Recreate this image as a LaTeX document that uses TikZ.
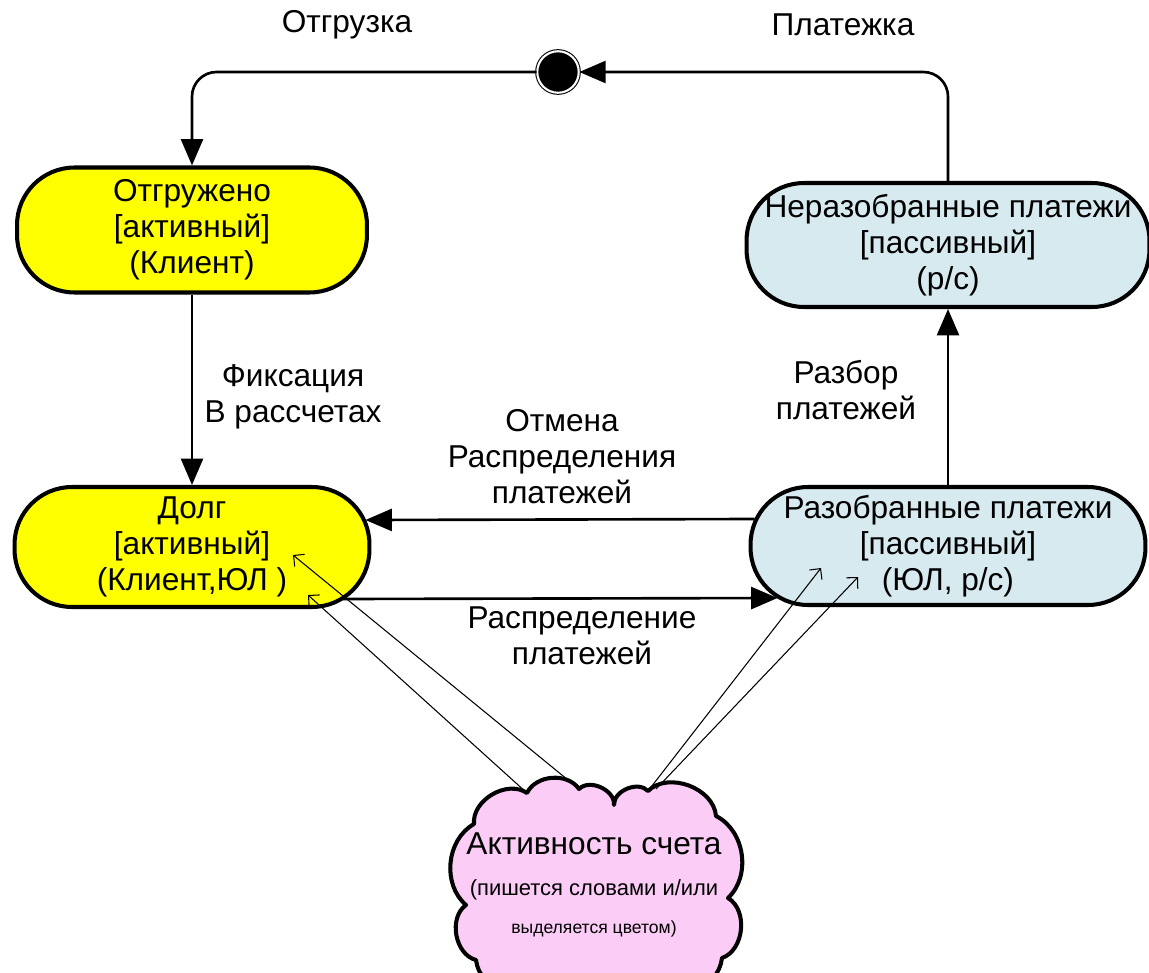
\documentclass[tikz,border=0pt]{standalone}
\usepackage{fontspec}
\setmainfont{Liberation Sans}
\usetikzlibrary{arrows.meta,calc}
\definecolor{stYellow}{RGB}{255,255,0}
\definecolor{stBlue}{RGB}{214,234,240}
\definecolor{stPink}{RGB}{250,204,246}
\newcommand\bigtxt{\fontsize{18}{20.5}\selectfont}
\newcommand\smalltxt{\fontsize{12.5}{14}\selectfont}
\tikzset{
  statebox/.style={rectangle, rounded corners=1.15cm, draw=black, line width=2.3pt,
    align=center, font=\bigtxt, inner sep=0pt},
  lbl/.style={align=center, font=\bigtxt, inner sep=0pt},
  mainarrow/.style={line width=1.5pt, -{Triangle[length=15pt,width=12.5pt]}},
  thinarrow/.style={line width=0.6pt, -{Straight Barb[length=4.5pt,width=9pt]}},
  cloudline/.style={draw=black, fill=stPink, line width=2.3pt, line join=round},
}
\begin{document}
\begin{tikzpicture}[x=0.02cm,y=-0.02cm]
\useasboundingbox[fill=white] (0,0) rectangle (1149,973);

% initial state
\node[circle, fill=black, draw=black, double=white, double distance=1.2pt,
      line width=0.6pt, minimum size=0.83cm, inner sep=0pt] (init) at (558,72) {};

% states
\node[statebox, fill=stYellow, minimum width=7cm, minimum height=2.5cm] (ot) at (192,230)
  {Отгружено\\{[}активный{]}\\(Клиент)};
\node[statebox, fill=stBlue, minimum width=8.06cm, minimum height=2.48cm] (ner) at (948,245)
  {Неразобранные платежи\\{[}пассивный{]}\\(р/с)};
\node[statebox, fill=stYellow, minimum width=7.1cm, minimum height=2.4cm] (dolg) at (192,547)
  {Долг\\{[}активный{]}\\(Клиент,ЮЛ )};
\node[statebox, fill=stBlue, minimum width=7.9cm, minimum height=2.36cm] (raz) at (948,546)
  {Разобранные платежи\\{[}пассивный{]}\\(ЮЛ, р/с)};

% cloud outline (drawn directly), then its text node
\path[cloudline] (474,824)
  to[bend left=65] (527,793)
  to[bend left=60] (579,789)
  to[bend left=70] (614,805)
  to[bend left=70] (648,791)
  to[bend left=65] (716,816)
  to[bend left=55] (728,898)
  to[bend left=65] (722,958)
  to[bend left=60] (650,990)
  to[bend left=55] (545,990)
  to[bend left=60] (476,960)
  to[bend left=65] (466,905)
  to[bend left=55] (474,824) -- cycle;
\node[align=center, inner sep=0pt] (cl) at (594,885)
  {\bigtxt Активность счета\\[11pt]\smalltxt (пишется словами и/или\\[9.5pt]выделяется цветом)};

% labels
\node[lbl] (lOtgr) at (347,25) {Отгрузка};
\node[lbl] (lPlat) at (843,25) {Платежка};
\node[lbl] (lFix) at (293,397) {Фиксация\\В рассчетах};
\node[lbl] (lRazb) at (846,390) {Разбор\\платежей};
\node[lbl] (lOtm) at (562,457) {Отмена\\Распределения\\платежей};
\node[lbl] (lRasp) at (582,636) {Распределение\\платежей};

% main connectors
\draw[mainarrow, rounded corners=14pt] (init.west) -| (ot.north);
\draw[mainarrow, rounded corners=14pt] (ner.north) |- (init.east);
\draw[mainarrow] (ot.south) -- (dolg.north);
\draw[mainarrow] (raz.north) -- (ner.south);
\draw[mainarrow] ($(raz.west)+(6,-27)$) -- ($(dolg.east)+(-6,-27)$);
\draw[mainarrow] ($(dolg.east)+(-29,52)$) -- ($(raz.west)+(29,52)$);

% cloud connectors
\draw[thinarrow] ($(cl.center)+(-67,-92)$) -- ($(dolg.center)+(116,48)$);
\draw[thinarrow] ($(cl.center)+(-15,-96)$) -- ($(dolg.center)+(101,8)$);
\draw[thinarrow] ($(cl.center)+(54,-94)$) -- ($(raz.center)+(-127,22)$);
\draw[thinarrow] ($(cl.center)+(62,-96)$) -- ($(raz.center)+(-90,31)$);
\end{tikzpicture}
\end{document}
